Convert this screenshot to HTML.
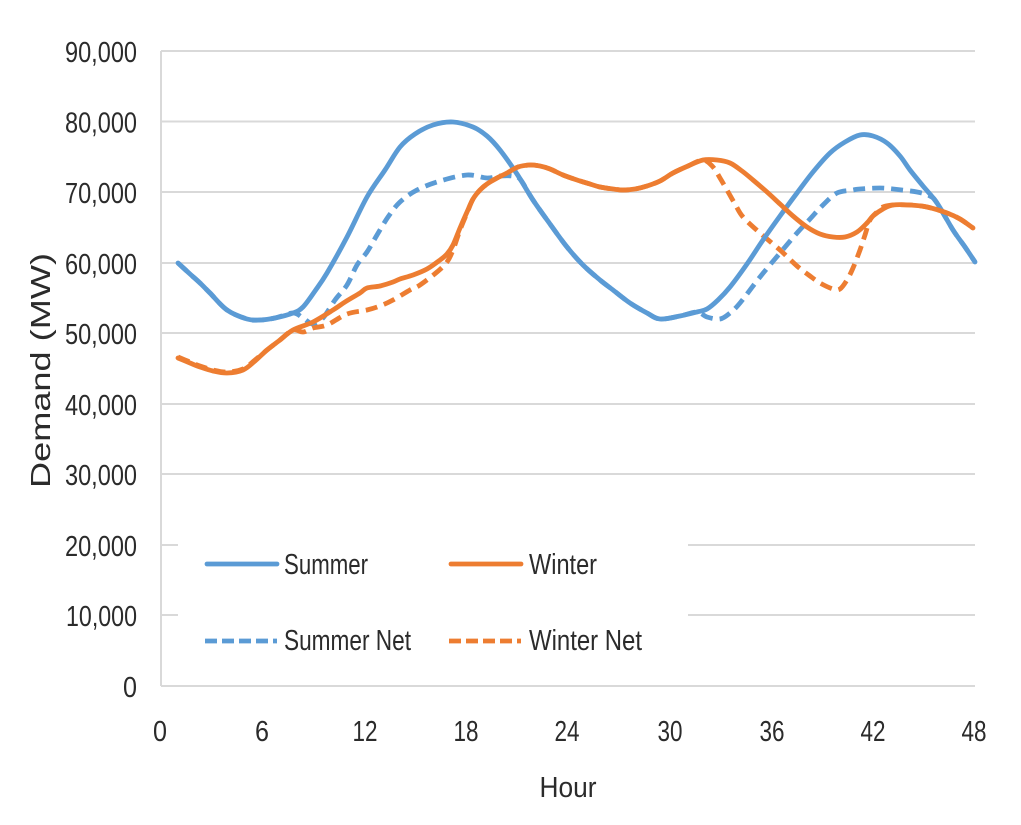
<!DOCTYPE html>
<html>
<head>
<meta charset="utf-8">
<style>
  html, body { margin: 0; padding: 0; background: #ffffff; }
  body { width: 1021px; height: 825px; overflow: hidden; }
  svg { display: block; }
  text { font-family: "Liberation Sans", sans-serif; fill: #2b2b2b; }
</style>
</head>
<body>
<svg id="chart" width="1021" height="825" viewBox="0 0 1021 825" xmlns="http://www.w3.org/2000/svg">
  <rect x="0" y="0" width="1021" height="825" fill="#ffffff"/>

  <!-- gridlines -->
  <g stroke="#D9D9D9" stroke-width="2" fill="none">
    <line x1="161" y1="51" x2="975" y2="51"/>
    <line x1="161" y1="121.5" x2="975" y2="121.5"/>
    <line x1="161" y1="192" x2="975" y2="192"/>
    <line x1="161" y1="263" x2="975" y2="263"/>
    <line x1="161" y1="333" x2="975" y2="333"/>
    <line x1="161" y1="404" x2="975" y2="404"/>
    <line x1="161" y1="474" x2="975" y2="474"/>
    <line x1="161" y1="545" x2="975" y2="545"/>
    <line x1="161" y1="615" x2="975" y2="615"/>
    <line x1="161" y1="686" x2="975" y2="686"/>
    <line x1="161" y1="51" x2="161" y2="686"/>
  </g>

  <!-- legend background -->
  <rect x="178" y="522" width="510" height="146" fill="#ffffff"/>

  <!-- series -->
  <g fill="none" stroke-width="4.8" stroke-linejoin="round" stroke-linecap="round">
    <!-- Summer Net (dashed blue) -->
    <polyline class="sm" stroke="#5B9BD5" stroke-dasharray="12 7" stroke-linecap="butt"
      points="178,263 190,274 200,283 210,293 227,310 247,319 260,320 275,318 293,313 303,318 313,324 323,318 335,300 347,285 357,265 367,252 377,235 388,217 400,202 417,190 440,181 467,175 487,178 500,176 512,176 520,179 533,200 550,224 567,247 583,265 600,280 613,290 630,303 647,313 660,319 680,316 697,312 707,317 720,319 730,313 740,303 760,277 780,253 797,233 810,219 823,205 837,193 853,190 860,189 880,188 893,189 917,192 930,196 937,203 953,230 965,247 975,262"/>
    <!-- Winter Net (dashed orange) -->
    <polyline class="sm" stroke="#ED7D31" stroke-dasharray="12 7" stroke-linecap="butt"
      points="178,357 190,362 200,366 213,370 227,372 243,369 255,360 267,350 280,340 293,330 303,332 313,328 327,325 347,314 367,310 380,306 393,300 410,290 420,285 437,272 447,262 453,250 460,230 467,213 473,199 480,190 487,184 497,178 507,173 518,167 530,165 540,166 550,169 563,175 577,180 590,184 600,187 613,189 623,190 635,189 647,186 660,181 673,173 688,166 703,160 713,167 720,178 727,190 735,204 743,217 760,233 780,250 797,266 810,276 820,283 833,289 840,289 847,280 853,268 860,250 865,235 870,220 877,212 883,207 893,205 910,205 927,207 947,213 960,219 973,228"/>
    <!-- Summer (solid blue) -->
    <polyline class="sm" stroke="#5B9BD5"
      points="178,263 190,274 200,283 210,293 227,310 247,319 260,320 275,318 293,313 303,307 315,291 327,273 347,237 367,197 385,170 400,147 415,134 433,125 453,122 473,127 487,136 500,150 517,174 533,200 550,224 567,247 583,265 600,280 613,290 630,303 647,313 660,319 680,316 697,312 707,309 718,300 730,287 747,264 763,240 780,216 797,193 813,172 830,153 845,142 860,135 873,136 887,143 900,156 910,170 923,186 937,203 953,230 965,247 975,262"/>
    <!-- Winter (solid orange) -->
    <polyline class="sm" stroke="#ED7D31"
      points="178,358 190,363 200,367 213,371 227,373 243,370 255,361 267,350 280,340 293,330 313,322 333,310 345,302 360,293 367,288 380,286 393,282 400,279 413,275 427,269 440,260 447,254 453,245 460,228 467,212 473,199 480,190 487,184 497,178 507,173 518,167 530,165 540,166 550,169 563,175 577,180 590,184 600,187 613,189 623,190 635,189 647,186 660,181 673,173 688,166 703,160 717,160 730,163 742,171 753,180 767,192 780,204 793,216 807,227 820,234 833,237 845,237 857,232 867,223 873,216 883,209 893,205 910,205 927,207 947,213 960,219 973,228"/>
  </g>

  <!-- legend -->
  <g stroke-width="4.8" fill="none">
    <line x1="207" y1="564" x2="277" y2="564" stroke="#5B9BD5" stroke-linecap="round"/>
    <line x1="451" y1="564" x2="521" y2="564" stroke="#ED7D31" stroke-linecap="round"/>
    <line x1="205" y1="641" x2="277" y2="641" stroke="#5B9BD5" stroke-dasharray="12 5"/>
    <line x1="449" y1="641" x2="521" y2="641" stroke="#ED7D31" stroke-dasharray="12 5"/>
  </g>
  <g font-size="29">
    <text x="284" y="574" textLength="84" lengthAdjust="spacingAndGlyphs">Summer</text>
    <text x="529" y="574" textLength="68" lengthAdjust="spacingAndGlyphs">Winter</text>
    <text x="284" y="650" textLength="127" lengthAdjust="spacingAndGlyphs">Summer Net</text>
    <text x="529" y="650" textLength="113" lengthAdjust="spacingAndGlyphs">Winter Net</text>
  </g>

  <!-- y tick labels -->
  <g font-size="29" text-anchor="end">
    <text x="137" y="62" textLength="72" lengthAdjust="spacingAndGlyphs">90,000</text>
    <text x="137" y="132.5" textLength="72" lengthAdjust="spacingAndGlyphs">80,000</text>
    <text x="137" y="203" textLength="72" lengthAdjust="spacingAndGlyphs">70,000</text>
    <text x="137" y="274" textLength="72" lengthAdjust="spacingAndGlyphs">60,000</text>
    <text x="137" y="344" textLength="72" lengthAdjust="spacingAndGlyphs">50,000</text>
    <text x="137" y="415" textLength="72" lengthAdjust="spacingAndGlyphs">40,000</text>
    <text x="137" y="485" textLength="72" lengthAdjust="spacingAndGlyphs">30,000</text>
    <text x="137" y="556" textLength="72" lengthAdjust="spacingAndGlyphs">20,000</text>
    <text x="137" y="626" textLength="71" lengthAdjust="spacingAndGlyphs">10,000</text>
    <text x="137" y="697" textLength="14" lengthAdjust="spacingAndGlyphs">0</text>
  </g>

  <!-- x tick labels -->
  <g font-size="29" text-anchor="middle">
    <text x="160" y="741" textLength="14" lengthAdjust="spacingAndGlyphs">0</text>
    <text x="262" y="741" textLength="14" lengthAdjust="spacingAndGlyphs">6</text>
    <text x="365" y="741" textLength="25" lengthAdjust="spacingAndGlyphs">12</text>
    <text x="466" y="741" textLength="25" lengthAdjust="spacingAndGlyphs">18</text>
    <text x="567" y="741" textLength="25" lengthAdjust="spacingAndGlyphs">24</text>
    <text x="670" y="741" textLength="25" lengthAdjust="spacingAndGlyphs">30</text>
    <text x="772" y="741" textLength="25" lengthAdjust="spacingAndGlyphs">36</text>
    <text x="873" y="741" textLength="25" lengthAdjust="spacingAndGlyphs">42</text>
    <text x="974" y="741" textLength="25" lengthAdjust="spacingAndGlyphs">48</text>
  </g>

  <!-- axis titles -->
  <text x="568" y="797" font-size="29" text-anchor="middle" textLength="57" lengthAdjust="spacingAndGlyphs">Hour</text>
  <text transform="translate(50,370.5) rotate(-90)" x="0" y="0" font-size="28" text-anchor="middle" textLength="235" lengthAdjust="spacingAndGlyphs">Demand (MW)</text>
</svg>
<script>
(function(){
  var NS = "http://www.w3.org/2000/svg";
  var lines = document.querySelectorAll("polyline.sm");
  for (var i = 0; i < lines.length; i++) {
    var pl = lines[i];
    var raw = pl.getAttribute("points").trim().split(/\s+/);
    var p = raw.map(function(s){ var a = s.split(","); return [parseFloat(a[0]), parseFloat(a[1])]; });
    var d = "M" + p[0][0] + "," + p[0][1];
    for (var k = 0; k < p.length - 1; k++) {
      var p0 = p[k > 0 ? k - 1 : k], p1 = p[k], p2 = p[k + 1], p3 = p[k + 2 < p.length ? k + 2 : k + 1];
      var c1x = p1[0] + (p2[0] - p0[0]) / 6, c1y = p1[1] + (p2[1] - p0[1]) / 6;
      var c2x = p2[0] - (p3[0] - p1[0]) / 6, c2y = p2[1] - (p3[1] - p1[1]) / 6;
      d += " C" + c1x.toFixed(2) + "," + c1y.toFixed(2) + " " + c2x.toFixed(2) + "," + c2y.toFixed(2) + " " + p2[0] + "," + p2[1];
    }
    var path = document.createElementNS(NS, "path");
    for (var j = 0; j < pl.attributes.length; j++) {
      var at = pl.attributes[j];
      if (at.name !== "points" && at.name !== "class") path.setAttribute(at.name, at.value);
    }
    path.setAttribute("d", d);
    pl.parentNode.replaceChild(path, pl);
  }
})();
</script>
</body>
</html>
